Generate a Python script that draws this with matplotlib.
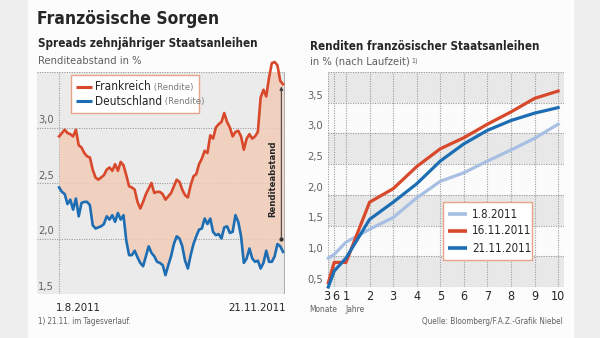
import numpy as np
import pandas as pd
import matplotlib
matplotlib.use('Agg')
import matplotlib.pyplot as plt
import matplotlib.transforms as mtransforms
from matplotlib.lines import Line2D
from matplotlib.patches import Rectangle
from matplotlib.text import Annotation

plt.rcParams['font.family'] = ['DejaVu Sans']
plt.rcParams['font.stretch'] = 'condensed'

# Renditen zehnjaehriger Staatsanleihen, Handelstage 1.8. - 21.11.2011
tage = pd.bdate_range('2011-08-01', '2011-11-21')
frankreich = [
    2.92, 2.95, 2.98, 2.95, 2.94, 2.92, 2.98, 2.84, 2.82, 2.77,
    2.74, 2.73, 2.62, 2.55, 2.53, 2.55, 2.57, 2.62, 2.64, 2.61,
    2.67, 2.61, 2.69, 2.66, 2.57, 2.47, 2.46, 2.44, 2.33, 2.27,
    2.33, 2.40, 2.45, 2.50, 2.41, 2.42, 2.42, 2.40, 2.35, 2.38,
    2.41, 2.47, 2.53, 2.51, 2.44, 2.39, 2.37, 2.48, 2.56, 2.58,
    2.67, 2.72, 2.79, 2.77, 2.93, 2.90, 3.00, 3.03, 3.05, 3.13,
    3.05, 3.00, 2.92, 2.96, 2.97, 2.92, 2.80, 2.90, 2.94, 2.90,
    2.92, 2.96, 3.27, 3.34, 3.28, 3.45, 3.58, 3.59, 3.56, 3.42,
    3.39,
]
deutschland = [
    2.46, 2.42, 2.40, 2.31, 2.35, 2.26, 2.36, 2.20, 2.32, 2.33,
    2.33, 2.30, 2.12, 2.09, 2.10, 2.11, 2.13, 2.20, 2.17, 2.21,
    2.15, 2.23, 2.17, 2.21, 1.98, 1.85, 1.85, 1.89, 1.83, 1.78,
    1.75, 1.84, 1.93, 1.87, 1.84, 1.79, 1.78, 1.76, 1.67, 1.76,
    1.84, 1.95, 2.02, 2.00, 1.93, 1.80, 1.73, 1.85, 1.95, 2.02,
    2.08, 2.09, 2.18, 2.13, 2.18, 2.06, 2.03, 2.04, 2.00, 2.10,
    2.11, 2.05, 2.06, 2.21, 2.15, 2.02, 1.78, 1.82, 1.91, 1.82,
    1.79, 1.80, 1.73, 1.78, 1.89, 1.79, 1.79, 1.84, 1.95, 1.93,
    1.88,
]
spread_von, spread_bis = 2.0, 3.37

# Zinskurve nach Laufzeit (Jahre)
laufzeit = [0.25, 0.5, 1, 2, 3, 4, 5, 6, 7, 8, 9, 10]
laufzeit_labels = ['3', '6', '1', '2', '3', '4', '5', '6', '7', '8', '9', '10']
kurve_0108 = [0.97, 1.03, 1.23, 1.44, 1.63, 1.95, 2.22, 2.36, 2.55, 2.73, 2.92, 3.15]
kurve_1611 = [0.57, 0.90, 0.90, 1.88, 2.10, 2.46, 2.75, 2.93, 3.15, 3.35, 3.57, 3.69]
kurve_2111 = [0.50, 0.76, 0.97, 1.60, 1.88, 2.18, 2.55, 2.83, 3.05, 3.21, 3.33, 3.42]

ROT = '#d8482b'
BLAU = '#1c6db3'
HELLBLAU = '#a6bfe2'
GRAU_TEXT = '#606060'
DUNKEL = '#262626'
RAHMEN = '#e7a488'
GRID = dict(color='#9c9c9c', lw=0.8, ls=(0, (1, 1.2)))

W, H = 600, 338
fig = plt.figure(figsize=(6, 3.38), dpi=100)
fig.patch.set_facecolor('#eeeeee')


def fx(x):
    return x / W


def fy(y):
    return 1 - y / H


def px_axes(x0, y0, x1, y1):
    return fig.add_axes([fx(x0), fy(y1), (x1 - x0) / W, (y1 - y0) / H])


# white card behind both charts
fig.patches.append(Rectangle((fx(28), 0), fx(573) - fx(28), 1,
                             transform=fig.transFigure, color='#fcfcfc', zorder=-5))

# headings
fig.text(fx(37), fy(19), 'Französische Sorgen', fontsize=12.5, fontweight='bold',
         color=DUNKEL, va='center')
fig.text(fx(38), fy(43), 'Spreads zehnjähriger Staatsanleihen', fontsize=8.4,
         fontweight='bold', color=DUNKEL, va='center')
fig.text(fx(38), fy(61), 'Renditeabstand in %', fontsize=8, color=GRAU_TEXT, va='center')
fig.text(fx(310), fy(46), 'Renditen französischer Staatsanleihen', fontsize=8.4,
         fontweight='bold', color=DUNKEL, va='center')
sub = fig.text(fx(310), fy(62), 'in % (nach Laufzeit)', fontsize=8, color=GRAU_TEXT,
               va='center')
fig.add_artist(Annotation('1)', xy=(1, 1), xycoords=sub, xytext=(1, 0),
                          textcoords='offset points', fontsize=5, color=GRAU_TEXT,
                          va='top', ha='left', annotation_clip=False))
fig.text(fx(38), fy(321), '1) 21.11. im Tagesverlauf.', fontsize=5.8,
         color=GRAU_TEXT, va='center')
fig.text(fx(563), fy(322), 'Quelle: Bloomberg/F.A.Z.-Grafik Niebel', fontsize=5.9,
         color=GRAU_TEXT, va='center', ha='right')

# ---- left: spreads ----
ax1 = px_axes(37, 72, 285, 294)
xi = np.arange(len(tage))
ax1.set_xlim(-7.9, 80.7)
ax1.set_ylim(1.5, 3.5)
ax1.set_facecolor('#ebebeb')
for s in ax1.spines.values():
    s.set_visible(False)
ax1.set_xticks([])
ax1.set_yticks([])
for v in [1.5, 2.0, 2.5, 3.0, 3.5]:
    ax1.axhline(v, **GRID, zorder=1)
    if v < 3.5:
        ax1.annotate(f'{v:.1f}'.replace('.', ','), xy=(0, v),
                     xycoords=('axes fraction', 'data'),
                     xytext=(0.8, 1.5), textcoords='offset points', fontsize=8,
                     color=GRAU_TEXT, va='bottom', ha='left')
ax1.axvline(0, **GRID, zorder=1)
ax1.axvline(xi[-1] + 0.3, color='#b0b0b0', lw=0.8, zorder=1)

ax1.fill_between(xi, deutschland, frankreich, color='#f2cdb9', alpha=0.85, lw=0, zorder=2)
ax1.plot(xi, frankreich, color=ROT, lw=1.9, zorder=3, clip_on=False, solid_joinstyle='round')
ax1.plot(xi, deutschland, color=BLAU, lw=1.9, zorder=3, clip_on=False, solid_joinstyle='round')

ax1.annotate('', xy=(xi[-1] - 0.6, spread_bis), xytext=(xi[-1] - 0.6, spread_von),
             arrowprops=dict(arrowstyle='-|>', color='#444444', lw=0.8,
                             mutation_scale=5, shrinkA=0, shrinkB=0), zorder=4)
ax1.plot([xi[-1] - 0.6], [spread_von], 'o', color='#333333', ms=2, zorder=4)
ax1.text(76.4, 2.54, 'Renditeabstand', rotation=90, fontsize=6.8, fontweight='bold',
         color=DUNKEL, ha='center', va='center', zorder=4)

fig.text(fx(56), fy(308), tage[0].strftime('%-d.%-m.%Y'), fontsize=8.2, color=DUNKEL,
         va='center', ha='left')
fig.text(fx(286), fy(308), tage[-1].strftime('%-d.%-m.%Y'), fontsize=8.2, color=DUNKEL,
         va='center', ha='right')


def legend_box(x0, y0, x1, y1):
    fig.patches.append(Rectangle((fx(x0) + 0.002, fy(y1) - 0.004), (x1 - x0) / W,
                                 (y1 - y0) / H, transform=fig.transFigure,
                                 facecolor='#dcdcdc', edgecolor='none', zorder=5))
    fig.patches.append(Rectangle((fx(x0), fy(y1)), (x1 - x0) / W, (y1 - y0) / H,
                                 transform=fig.transFigure, facecolor='white',
                                 edgecolor=RAHMEN, lw=1.0, zorder=6))


def legend_line(x0, x1, y, color, lw):
    fig.lines.append(Line2D([fx(x0), fx(x1)], [fy(y), fy(y)], transform=fig.transFigure,
                            color=color, lw=lw, solid_capstyle='butt', zorder=7))


legend_box(71, 75, 199, 113)
for y, name, col in [(87, 'Frankreich', ROT), (101, 'Deutschland', BLAU)]:
    legend_line(76, 92, y, col, 2.2)
    lab = fig.text(fx(95), fy(y), name, fontsize=8.6, color=DUNKEL, va='center', zorder=7)
    fig.add_artist(Annotation(' (Rendite)', xy=(1, 0.45), xycoords=lab, va='center',
                              ha='left', fontsize=6.8, color='#7a7a7a',
                              annotation_clip=False, zorder=8))

# ---- right: yield curve ----
ax2 = px_axes(327.6, 72, 564, 287)
ax2.set_xlim(0.22, 10.25)
ax2.set_ylim(0.5, 4.0)
ax2.set_facecolor('#fbfbfb')
for s in ax2.spines.values():
    s.set_visible(False)
for lo in [0.5, 1.5, 2.5, 3.5]:
    ax2.axhspan(lo, lo + 0.5, color='#e8e8e8', lw=0, zorder=0)
for v in np.arange(0.5, 4.01, 0.5):
    ax2.axhline(v, **GRID, zorder=1)
for x in laufzeit:
    ax2.axvline(x, **GRID, zorder=1)
ax2.set_yticks([])
ax2.set_xticks(laufzeit)
ax2.set_xticklabels(laufzeit_labels)
ax2.tick_params(axis='x', length=0, pad=2.5, labelsize=9, labelcolor=DUNKEL)
# pull the two month labels slightly apart
for lbl, dx in zip(ax2.get_xticklabels()[:2], (-1.2, 1.2)):
    lbl.set_transform(lbl.get_transform() +
                      mtransforms.ScaledTranslation(dx / 72, 0, fig.dpi_scale_trans))
for v in np.arange(0.5, 3.51, 0.5):
    ax2.annotate(f'{v:.1f}'.replace('.', ','), xy=(0, v),
                 xycoords=('axes fraction', 'data'),
                 xytext=(-14.5, 1.5), textcoords='offset points', fontsize=8,
                 color=GRAU_TEXT, va='bottom', ha='left', annotation_clip=False)

ax2.plot(laufzeit, kurve_0108, color=HELLBLAU, lw=2.3, zorder=3, clip_on=False)
ax2.plot(laufzeit, kurve_1611, color=ROT, lw=2.3, zorder=3, clip_on=False)
ax2.plot(laufzeit, kurve_2111, color=BLAU, lw=2.3, zorder=4, clip_on=False)

fig.text(fx(309), fy(309.5), 'Monate', fontsize=6, color=GRAU_TEXT, va='center')
fig.text(fx(345), fy(309.5), 'Jahre', fontsize=6, color=GRAU_TEXT, va='center')

legend_box(443, 202, 532, 260)
for y, name, col in [(214, '1.8.2011', HELLBLAU), (231, '16.11.2011', ROT),
                     (248, '21.11.2011', BLAU)]:
    legend_line(448, 467, y, col, 2.6)
    fig.text(fx(472), fy(y), name, fontsize=8.3, color=DUNKEL, va='center', zorder=7)

fig.savefig('out.png', dpi=100, facecolor=fig.get_facecolor())
